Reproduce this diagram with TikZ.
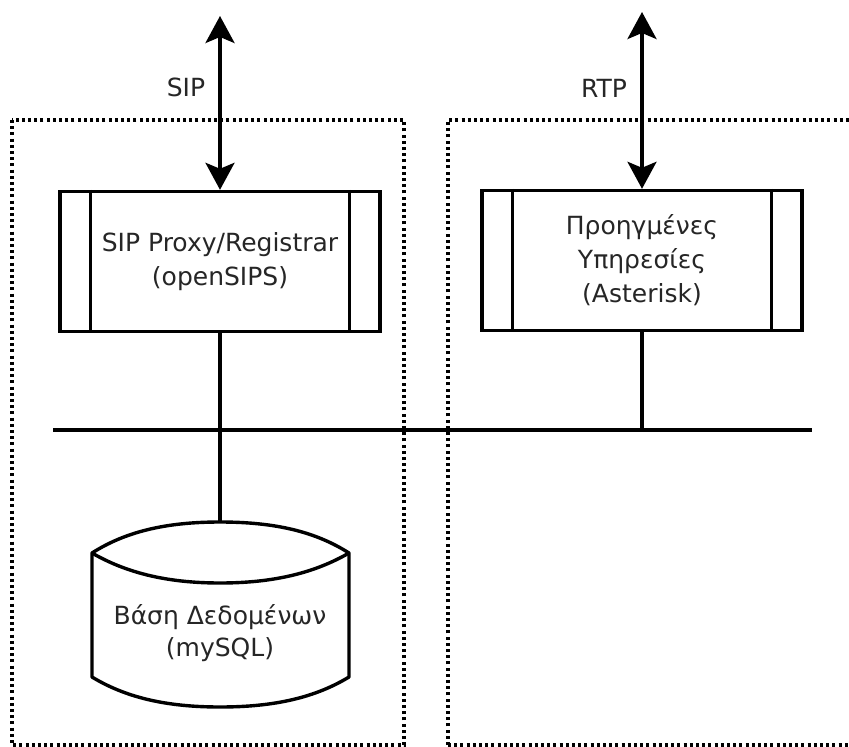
\documentclass[tikz,border=0pt]{standalone}
\usepackage{fontspec}
\setmainfont{DejaVu Sans}
\usetikzlibrary{arrows.meta,calc}
\begin{document}
\begin{tikzpicture}[x=1pt,y=-1pt,
  dotbox/.style={line width=3.4pt, dash pattern=on 3pt off 3.2pt},
  solid line/.style={line width=3.4pt},
  srvbox/.style={draw, line width=3.4pt, minimum width=320pt, minimum height=140pt, inner sep=0pt, align=center, font=\fontsize{25}{34}\selectfont, text=black!85},
  lbl/.style={font=\fontsize{25}{34}\selectfont, text=black!85, inner sep=0pt},
  dblbl/.style={align=center, font=\fontsize{25}{32}\selectfont, text=black!85, inner sep=0pt},
  bidir/.style={line width=3.4pt, {Stealth[length=27pt,width=29pt,inset=6pt]}-{Stealth[length=27pt,width=29pt,inset=6pt]}}
]
\useasboundingbox (0,0) rectangle (849,747);
\clip (0,0) rectangle (849,747);
\fill[white] (0,0) rectangle (849,747);
% dotted domains
\draw[dotbox] (12,120) rectangle (404,745);
\draw[dotbox] (448,745) -- (448,120) -- (870,120);
\draw[dotbox] (448,745) -- (870,745);
% servers
\node[srvbox] (sip) at (220,261.5) {SIP Proxy/Registrar\\(openSIPS)};
\node[srvbox] (ast) at (642,260.5) {Προηγμένες\\Υπηρεσίες\\(Asterisk)};
\foreach \n in {sip,ast}{
  \draw[solid line] ($(\n.north west)+(32,0)$) -- ($(\n.south west)+(32,0)$);
  \draw[solid line] ($(\n.north east)+(-32,0)$) -- ($(\n.south east)+(-32,0)$);
}
% external arrows
\coordinate (siptop) at (220,16);
\coordinate (rtptop) at (642,12);
\draw[bidir] (siptop) -- (sip.north);
\draw[bidir] (rtptop) -- (ast.north);
\node[lbl] (siplbl) at (186,87) {SIP};
\node[lbl] (rtplbl) at (604,88) {RTP};
% bus
\coordinate (busL) at (53,430);
\coordinate (busR) at (812,430);
\coordinate (busA) at (220,430);
\coordinate (busB) at (642,430);
\draw[solid line] (busL) -- (busR);
\draw[solid line] (sip.south) -- (busA);
\draw[solid line] (ast.south) -- (busB);
% database
\coordinate (dbtop) at (220,522);
\draw[solid line] (busA) -- (dbtop);
\draw[solid line, line join=round]
  (92,553) .. controls (125,532) and (165,522) .. (dbtop)
  .. controls (276,522) and (316,532) .. (349,553)
  -- (349,677) .. controls (316,697) and (276,707) .. (220,707)
  .. controls (165,707) and (125,697) .. (92,677) -- cycle;
\draw[solid line, line join=round]
  (92,553) .. controls (125,572) and (165,583) .. (220,583)
  .. controls (276,583) and (316,572) .. (349,553);
\node[dblbl] (db) at (220,633) {Βάση Δεδομένων\\(mySQL)};
\end{tikzpicture}
\end{document}
